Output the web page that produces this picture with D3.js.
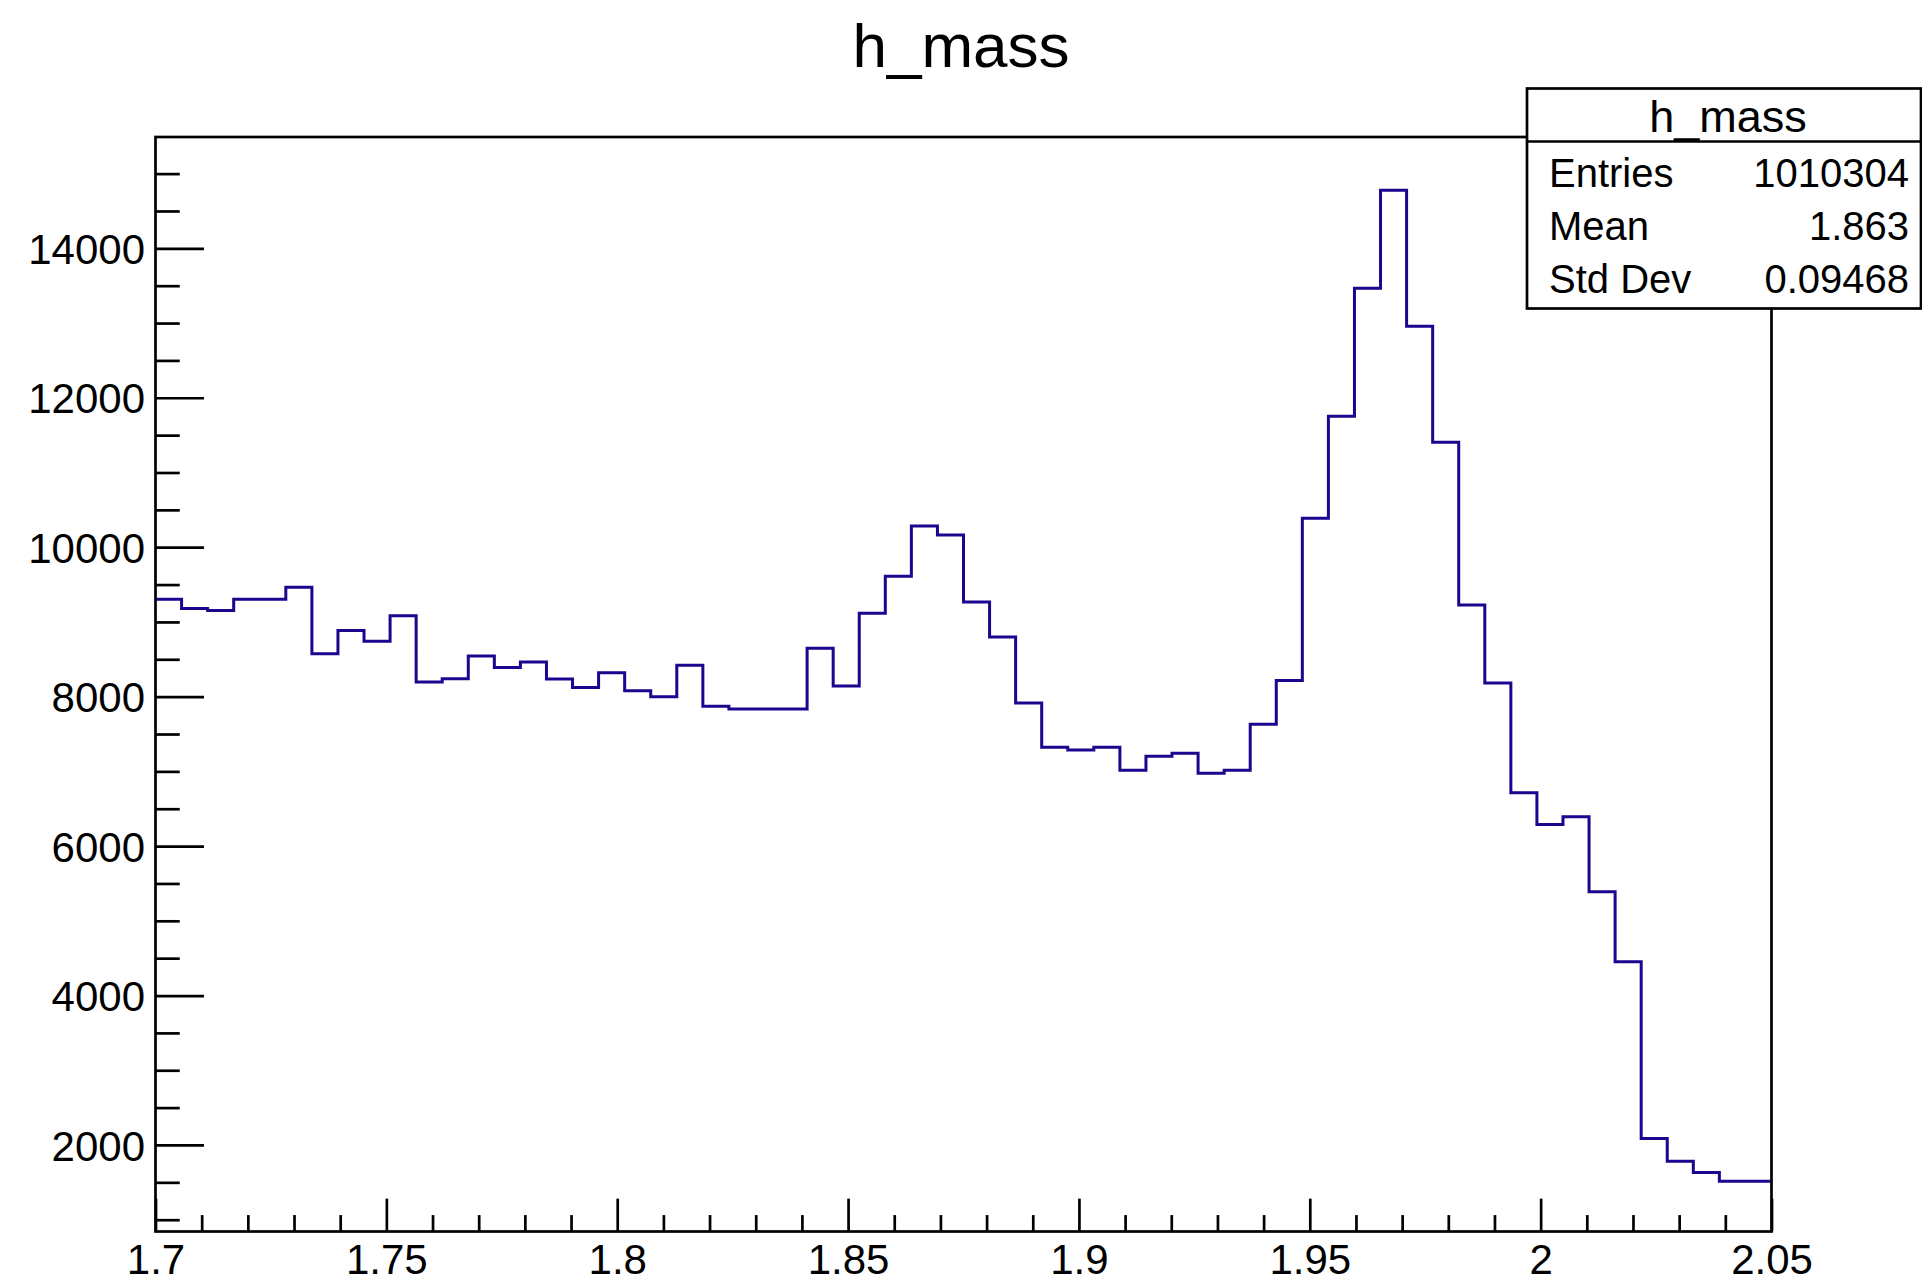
<!DOCTYPE html>
<html>
<head>
<meta charset="utf-8">
<script src="https://cdn.jsdelivr.net/npm/d3@7"></script>
<style>
  html, body { margin: 0; padding: 0; background: #fff; }
  svg { display: block; }
  text { font-family: "Liberation Sans", Arial, Helvetica, sans-serif; fill: #000; }
</style>
</head>
<body>
<script>
// ---- data ----
const histTitle = "h_mass";
const xMin = 1.7, xMax = 2.05;
const yMin = 842, yMax = 15490;
const counts = [
  9303, 9180, 9153, 9303, 9303, 9465, 8575, 8886, 8741, 9083,
  8197, 8241, 8544, 8390, 8465, 8237, 8123, 8320, 8079, 8000,
  8421, 7870, 7834, 7834, 7834, 8647, 8142, 9115, 9610, 10283,
  10163, 9266, 8798, 7915, 7322, 7286, 7322, 7014, 7201, 7241,
  6974, 7016, 7631, 8217, 10388, 11753, 13467, 14779, 12957, 11404,
  9227, 8184, 6715, 6290, 6394, 5390, 4451, 2087, 1781, 1633,
  1515, 1515
];
const xTickValues = [1.7, 1.75, 1.8, 1.85, 1.9, 1.95, 2.0, 2.05];
const xTickLabels = ["1.7", "1.75", "1.8", "1.85", "1.9", "1.95", "2", "2.05"];
const yTickValues = [2000, 4000, 6000, 8000, 10000, 12000, 14000];
const yTickLabels = ["2000", "4000", "6000", "8000", "10000", "12000", "14000"];
const statsLabels = ["Entries", "Mean", "Std Dev"];
const statsValues = ["1010304", "1.863", "0.09468"];

// ---- layout ----
const W = 1922, H = 1278;
const frame = { left: 155.5, right: 1771.5, top: 137, bottom: 1231.5 };
const lineColor = "#1c058f";

const svg = d3.select("body").append("svg").attr("width", W).attr("height", H);

const x = d3.scaleLinear().domain([xMin, xMax]).range([frame.left, frame.right]);
const y = d3.scaleLinear().domain([yMin, yMax]).range([frame.bottom, frame.top]);

// title
svg.append("text")
  .attr("x", W / 2).attr("y", 66.5)
  .attr("text-anchor", "middle")
  .style("font-size", "62px")
  .text(histTitle);

// histogram
const nBins = counts.length;
const binW = (xMax - xMin) / nBins;
const pts = counts.map((c, i) => [xMin + i * binW, c]);
pts.push([xMax, counts[nBins - 1]]);
const line = d3.line().x(d => x(d[0])).y(d => y(d[1])).curve(d3.curveStepAfter);
svg.append("path")
  .attr("d", line(pts))
  .attr("fill", "none")
  .attr("stroke", lineColor)
  .attr("stroke-width", 3)
  .attr("stroke-linejoin", "miter");

// axes
const majorX = 0.03 * (frame.bottom - frame.top);
const majorY = 0.03 * (frame.right - frame.left);

const xMinor = d3.range(1, 35).map(i => xMin + i * 0.01).filter(v => Math.abs(Math.round(v * 20) - v * 20) > 1e-6);
const yMinor = d3.range(1000, 15001, 500).filter(v => v % 2000 !== 0);

const gx = svg.append("g").attr("transform", `translate(0,${frame.bottom})`);
gx.call(d3.axisBottom(x).tickValues(xMinor).tickSize(-majorX / 2).tickFormat(""));
gx.call(g => g.select(".domain").remove());
const gx2 = svg.append("g").attr("transform", `translate(0,${frame.bottom})`);
gx2.call(d3.axisBottom(x).tickValues(xTickValues).tickSize(-majorX).tickPadding(13)
  .tickFormat((d, i) => xTickLabels[i]));
gx2.select(".domain").remove();
gx2.selectAll("text").style("font-size", "42px").attr("font-family", null);

const gy = svg.append("g").attr("transform", `translate(${frame.left},0)`);
gy.call(d3.axisLeft(y).tickValues(yMinor).tickSize(-majorY / 2).tickFormat(""));
gy.select(".domain").remove();
const gy2 = svg.append("g").attr("transform", `translate(${frame.left},0)`);
gy2.call(d3.axisLeft(y).tickValues(yTickValues).tickSize(-majorY).tickPadding(10.5)
  .tickFormat((d, i) => yTickLabels[i]));
gy2.select(".domain").remove();
gy2.selectAll("text").style("font-size", "42px").attr("dy", "0.36em").attr("font-family", null);

svg.selectAll(".tick line").attr("stroke", "#000").attr("stroke-width", 2.7);

// frame
svg.append("rect")
  .attr("x", frame.left).attr("y", frame.top)
  .attr("width", frame.right - frame.left).attr("height", frame.bottom - frame.top)
  .attr("fill", "none").attr("stroke", "#000").attr("stroke-width", 2.7);

// stats box
const box = { left: 1527, right: 1921, top: 88.5, header: 141.5, bottom: 308.5 };
svg.append("rect")
  .attr("x", box.left).attr("y", box.top)
  .attr("width", box.right - box.left).attr("height", box.bottom - box.top)
  .attr("fill", "#fff").attr("stroke", "#000").attr("stroke-width", 2.7);
svg.append("line")
  .attr("x1", box.left).attr("x2", box.right)
  .attr("y1", box.header).attr("y2", box.header)
  .attr("stroke", "#000").attr("stroke-width", 2.7);
svg.append("text")
  .attr("x", (box.left + box.right) / 2 + 4).attr("y", 131.5)
  .attr("text-anchor", "middle")
  .style("font-size", "45px")
  .text(histTitle);
const rowBase = [186.5, 240, 293];
statsLabels.forEach((lab, i) => {
  svg.append("text").attr("x", 1549).attr("y", rowBase[i])
    .style("font-size", "40px").text(lab);
  svg.append("text").attr("x", 1909).attr("y", rowBase[i])
    .attr("text-anchor", "end").style("font-size", "40px").text(statsValues[i]);
});
</script>
</body>
</html>
